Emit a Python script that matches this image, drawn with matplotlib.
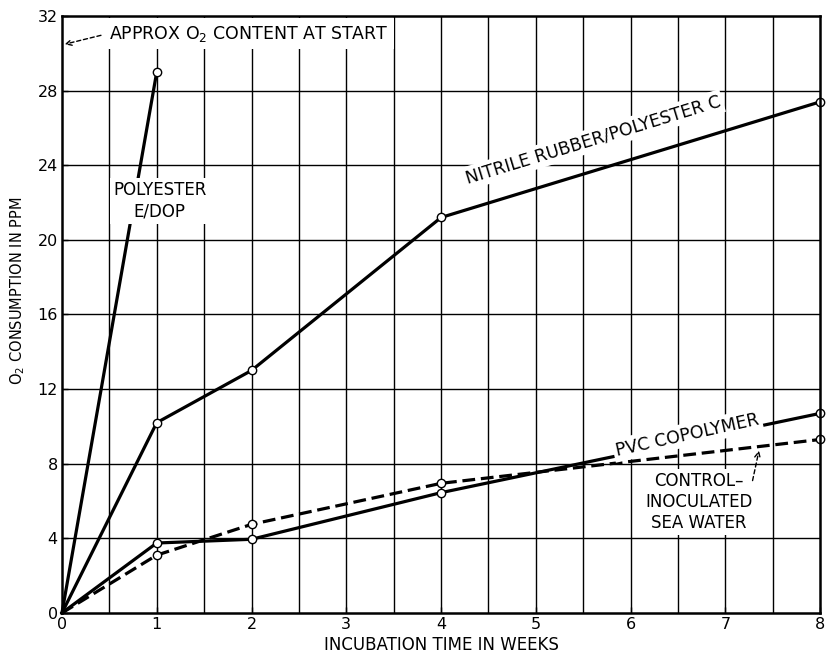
import matplotlib
matplotlib.use("Agg")
import matplotlib.pyplot as plt
import numpy as np

weeks_polyester = [0, 1]
polyester_e_dop = [0, 29.0]

weeks = [0, 1, 2, 4, 8]
nitrile = [0, 10.2, 13.0, 21.2, 27.4]
pvc = [0, 3.75, 3.95, 6.45, 10.7]
control = [0, 3.1, 4.75, 6.95, 9.3]

xticks = [0, 1, 2, 3, 4, 5, 6, 7, 8]
yticks = [0, 4, 8, 12, 16, 20, 24, 28, 32]

plt.rcParams['font.family'] = ['DejaVu Sans']

fig = plt.figure(figsize=(8.26, 6.53), dpi=100)
ax = fig.add_axes([0.075, 0.0613, 0.918, 0.9142])
ax.set_xlim(0, 8)
ax.set_ylim(0, 32)

# grid
for xv in np.arange(0.5, 8, 0.5):
    ax.axvline(xv, color='black', lw=1.0, zorder=1)
for yv in yticks[1:-1]:
    ax.axhline(yv, color='black', lw=1.0, zorder=1)

mk = dict(marker='o', markersize=6, markerfacecolor='white',
          markeredgecolor='black', markeredgewidth=1.0)

ax.plot(weeks_polyester, polyester_e_dop, color='black', lw=2.3, zorder=3,
        markevery=[1], clip_on=False, **mk)
ax.plot(weeks, nitrile, color='black', lw=2.3, zorder=3,
        markevery=[1, 2, 3, 4], clip_on=False, **mk)
ax.plot(weeks, pvc, color='black', lw=2.3, zorder=3,
        markevery=[1, 2, 3, 4], clip_on=False, **mk)
ax.plot(weeks, control, color='black', lw=2.3, ls=(0, (4, 1.8)), zorder=3,
        markevery=[1, 2, 3, 4], clip_on=False, **mk)

box = dict(facecolor='white', edgecolor='none', pad=2)
fs = 12
ax.text(0.5, 31.05, 'APPROX O$_2$ CONTENT AT START', fontsize=12.5, ha='left',
        va='center', bbox=dict(facecolor='white', edgecolor='none', pad=4), zorder=4)
ax.annotate('', xy=(0.0, 30.45), xytext=(0.44, 31.0),
            arrowprops=dict(arrowstyle='->', ls=(0, (3, 2)), lw=1.0, color='black'),
            zorder=5)
ax.text(1.03, 22.1, 'POLYESTER\nE/DOP', fontsize=fs, ha='center', va='center',
        linespacing=1.3, bbox=box, zorder=4)
ax.text(5.6, 25.35, 'NITRILE RUBBER/POLYESTER C', fontsize=12.5, ha='center',
        va='center', rotation=17, rotation_mode='anchor', bbox=box, zorder=4)
ax.text(6.6, 9.55, 'PVC COPOLYMER', fontsize=12.5, ha='center', va='center',
        rotation=12.5, rotation_mode='anchor', bbox=box, zorder=4)
ax.text(6.72, 5.95, 'CONTROL\u2013\nINOCULATED\nSEA WATER', fontsize=fs,
        ha='center', va='center', linespacing=1.2, bbox=box, zorder=4)
ax.annotate('', xy=(7.36, 8.85), xytext=(7.28, 6.95),
            arrowprops=dict(arrowstyle='->', ls=(0, (3, 2)), lw=1.0, color='black'),
            zorder=5)

ax.set_xticks(xticks)
ax.set_yticks(yticks)
ax.set_xticklabels([str(v) for v in xticks], fontsize=11.5)
ax.set_yticklabels([str(v) for v in yticks], fontsize=11.5)
ax.tick_params(direction='in', length=4, width=1, pad=3)
ax.set_xlabel('INCUBATION TIME IN WEEKS', fontsize=12, labelpad=3)
ax.set_ylabel('O$_2$ CONSUMPTION IN PPM', fontsize=10.5)
ax.yaxis.set_label_coords(-0.046, 0.54)
for s in ax.spines.values():
    s.set_linewidth(1.8)
    s.set_zorder(6)

fig.savefig('out.png', dpi=100)
